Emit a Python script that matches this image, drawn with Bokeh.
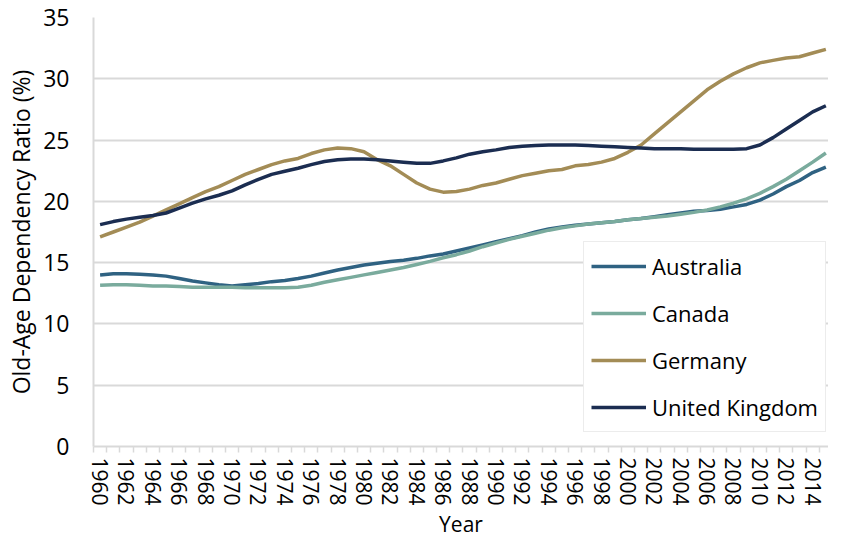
from bokeh.plotting import figure
from bokeh.models import Range1d, FixedTicker, Legend, LegendItem
from bokeh.embed import file_html
from bokeh.resources import INLINE

years = list(range(1960, 2016))

australia = [14.0, 14.1, 14.1, 14.05, 14.0, 13.9, 13.7, 13.5, 13.35, 13.2,
             13.1, 13.2, 13.3, 13.45, 13.55, 13.7, 13.9, 14.15, 14.4, 14.6,
             14.8, 14.95, 15.1, 15.2, 15.35, 15.55, 15.7, 15.95, 16.2, 16.45,
             16.7, 16.95, 17.2, 17.5, 17.75, 17.9, 18.05, 18.15, 18.25, 18.35,
             18.5, 18.6, 18.75, 18.9, 19.05, 19.2, 19.25, 19.35, 19.55, 19.75,
             20.1, 20.6, 21.2, 21.7, 22.35, 22.8]

canada = [13.15, 13.2, 13.2, 13.15, 13.1, 13.1, 13.05, 13.0, 13.0, 13.0,
          13.0, 12.95, 12.95, 12.95, 12.95, 13.0, 13.15, 13.4, 13.6, 13.8,
          14.0, 14.2, 14.4, 14.6, 14.85, 15.1, 15.4, 15.65, 15.95, 16.3,
          16.6, 16.9, 17.15, 17.4, 17.65, 17.85, 18.0, 18.15, 18.25, 18.35,
          18.5, 18.6, 18.7, 18.8, 18.95, 19.1, 19.3, 19.55, 19.85, 20.2,
          20.65, 21.2, 21.8, 22.5, 23.2, 23.95]

germany = [17.1, 17.5, 17.9, 18.3, 18.8, 19.3, 19.8, 20.3, 20.8, 21.2,
           21.7, 22.2, 22.6, 23.0, 23.3, 23.5, 23.9, 24.2, 24.35, 24.3,
           24.05, 23.4, 22.9, 22.2, 21.5, 21.0, 20.75, 20.8, 21.0, 21.3,
           21.5, 21.8, 22.1, 22.3, 22.5, 22.6, 22.9, 23.0, 23.2, 23.5,
           24.0, 24.6, 25.5, 26.4, 27.3, 28.2, 29.1, 29.8, 30.4, 30.9,
           31.3, 31.5, 31.7, 31.8, 32.1, 32.4]

united_kingdom = [18.1, 18.35, 18.55, 18.7, 18.85, 19.05, 19.45, 19.85, 20.2, 20.5,
                  20.85, 21.35, 21.8, 22.2, 22.45, 22.7, 23.0, 23.25, 23.4, 23.45,
                  23.45, 23.4, 23.3, 23.2, 23.1, 23.1, 23.3, 23.55, 23.85, 24.05,
                  24.2, 24.4, 24.5, 24.55, 24.6, 24.6, 24.6, 24.55, 24.5, 24.45,
                  24.4, 24.35, 24.3, 24.3, 24.3, 24.25, 24.25, 24.25, 24.25, 24.3,
                  24.6, 25.2, 25.9, 26.6, 27.3, 27.8]

series_names = ["Australia", "Canada", "Germany", "United Kingdom"]
series_values = [australia, canada, germany, united_kingdom]
series_colors = ["#2f6282", "#7aab9d", "#a38c56", "#1b2d51"]

label_years = list(range(1960, 2015, 2))
y_ticks = [0, 5, 10, 15, 20, 25, 30, 35]

FONT = "Open Sans"
GRID = "#d9d9d9"

p = figure(width=828, height=542, output_backend="svg", toolbar_location=None,
           x_range=Range1d(1959.5, 2015.2), y_range=Range1d(0, 35),
           min_border_left=93, min_border_right=0, min_border_top=17,
           min_border_bottom=96)

p.outline_line_color = None
p.background_fill_color = "white"
p.border_fill_color = "white"

items = []
for name, vals, col in zip(series_names, series_values, series_colors):
    r = p.line(years, vals, line_color=col, line_width=3.5)
    items.append(LegendItem(label=name, renderers=[r]))

# x axis
xa = p.xaxis[0]
xa.ticker = FixedTicker(ticks=label_years,
                        minor_ticks=[y - 0.5 for y in range(1960, 2017)])
xa.major_tick_line_color = None
xa.major_tick_out = 6
xa.major_tick_in = 0
xa.minor_tick_line_color = GRID
xa.minor_tick_line_width = 1.5
xa.minor_tick_out = 6
xa.minor_tick_in = 0
xa.axis_line_color = GRID
xa.axis_line_width = 2
xa.major_label_orientation = "vertical"
xa.major_label_standoff = 5
xa.major_label_text_font = FONT
xa.major_label_text_font_size = "21px"
xa.major_label_text_color = "black"
xa.axis_label = "Year"
xa.axis_label_text_font = FONT
xa.axis_label_text_font_size = "21px"
xa.axis_label_text_font_style = "normal"
xa.axis_label_text_color = "black"
xa.axis_label_standoff = 1

# y axis
ya = p.yaxis[0]
ya.ticker = FixedTicker(ticks=y_ticks)
ya.major_tick_line_color = None
ya.major_tick_out = 0
ya.major_tick_in = 0
ya.minor_tick_line_color = None
ya.axis_line_color = GRID
ya.axis_line_width = 2
ya.major_label_standoff = 24
ya.major_label_text_font = FONT
ya.major_label_text_font_size = "23px"
ya.major_label_text_color = "black"
ya.axis_label = "Old-Age Dependency Ratio (%)"
ya.axis_label_text_font = FONT
ya.axis_label_text_font_size = "23px"
ya.axis_label_text_font_style = "normal"
ya.axis_label_text_color = "black"
ya.axis_label_standoff = 3

p.xgrid.grid_line_color = None
p.ygrid.ticker = FixedTicker(ticks=y_ticks)
p.ygrid.grid_line_color = GRID
p.ygrid.grid_line_width = 2

legend = Legend(items=items, location=(490, 14))
legend.margin = 0
legend.padding = 7
legend.spacing = 13
legend.glyph_width = 55
legend.glyph_height = 34
legend.label_height = 34
legend.label_standoff = 6
legend.label_text_font = FONT
legend.label_text_font_size = "22px"
legend.label_text_color = "black"
legend.border_line_color = GRID
legend.border_line_width = 1.5
legend.background_fill_color = "white"
legend.background_fill_alpha = 1.0
p.add_layout(legend, "center")

open("out.html", "w").write(file_html(p, INLINE))
